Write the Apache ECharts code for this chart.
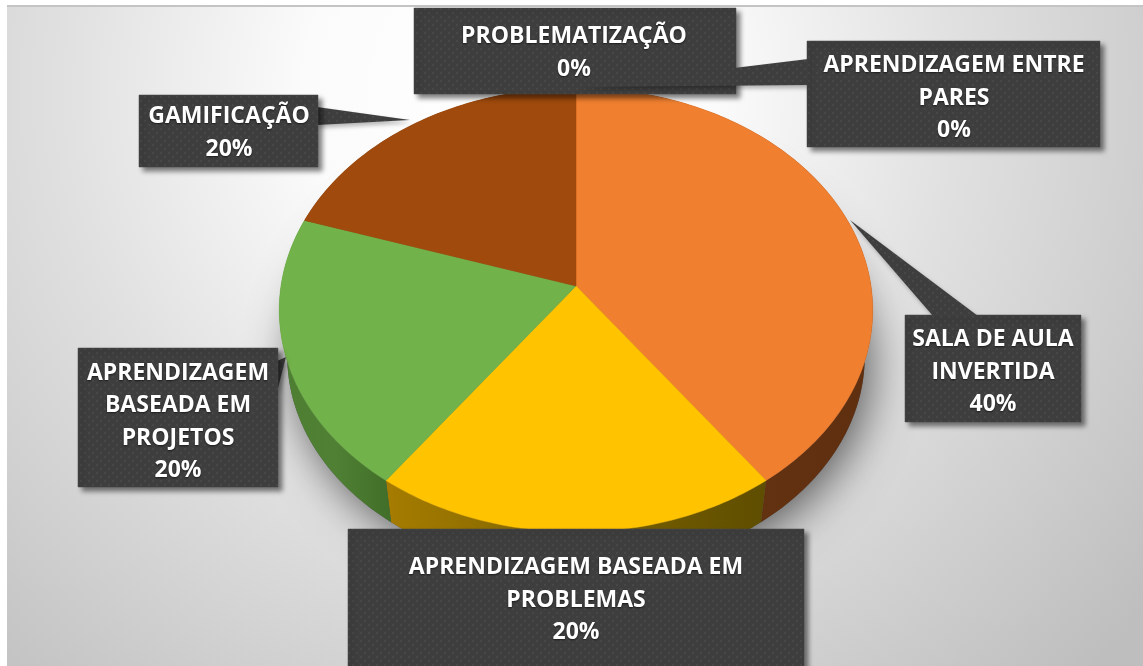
<!DOCTYPE html>
<html>
<head>
<meta charset="utf-8">
<style>html,body{margin:0;padding:0;background:#fff}#c{width:1143px;height:666px}</style>
<script src="https://cdn.jsdelivr.net/npm/echarts@6/dist/echarts.min.js"></script>
</head>
<body>
<div id="c"></div>
<script>
// ---- data ----
const categories = ['SALA DE AULA\nINVERTIDA', 'APRENDIZAGEM BASEADA EM\nPROBLEMAS', 'APRENDIZAGEM\nBASEADA EM\nPROJETOS', 'GAMIFICAÇÃO', 'PROBLEMATIZAÇÃO', 'APRENDIZAGEM ENTRE\nPARES'];
const values = [40, 20, 20, 20, 0, 0];

// ---- styling ----
const topColors = ['#F07F30', '#FFC300', '#72B24A', '#A04A0D', '#333', '#333'];
const wallStops = [
  ['#6b3612', '#5e2f10'],
  ['#a67c00', '#7c6300', '#5f4e00'],
  ['#4d7e32', '#4f8034', '#416e29'],
  ['#5a2a08', '#5a2a08'],
  ['#333', '#333'], ['#333', '#333']
];
// callout boxes: x, y, w, h; wedge: three points
const calloutBoxes = [
  [905, 315, 176, 107], [348, 529, 456, 140], [78, 348, 200, 139],
  [139, 95, 179, 72], [414, 8, 322, 86], [807, 41, 293, 106]
];
const calloutWedges = [
  [[850, 220], [933, 316], [978, 316]],
  null,
  [[286, 357], [277, 361], [277, 392]],
  [[410, 120], [317, 107], [317, 125]],
  null,
  [[578, 87], [808, 59], [808, 85]]
];
const textCentres = [[993, 372], [576, 600], [178, 422], [229, 133], [574, 53], [954, 98]];

const total = values.reduce((a, b) => a + b, 0);

// perspective disc: unit circle -> screen
const disc = { cx: 576, cy: 286, a: 295, b: 219.4, k: 0.108 };
function project(deg, lower) {
  const t = deg * Math.PI / 180, X = Math.sin(t), Y = -Math.cos(t), d = 1 - disc.k * Y;
  const x = disc.a * X / d, y = disc.b * Y / d;
  return lower ? [disc.cx + 0.973 * x, disc.cy + 47 + 0.973 * y] : [disc.cx + x, disc.cy + y];
}
function angles(i) {
  const s = values.slice(0, i).reduce((a, b) => a + b, 0);
  return [s / total * 360, (s + values[i]) / total * 360];
}
function arc(a0, a1, lower) {
  const n = Math.max(1, Math.ceil(a1 - a0)), pts = [];
  for (let j = 0; j <= n; j++) pts.push(project(a0 + (a1 - a0) * j / n, lower));
  return pts;
}

// dotted texture of the callouts
const tile = document.createElement('canvas');
tile.width = 8; tile.height = 8;
(function () {
  const g = tile.getContext('2d');
  g.fillStyle = '#3e3e3e'; g.fillRect(0, 0, 8, 8);
  g.fillStyle = '#474747';
  [[0, 0], [4, 4]].forEach(p => g.fillRect(p[0], p[1], 2, 2));
})();
const texture = { image: tile, repeat: 'repeat' };
const boxShadow = { shadowBlur: 5, shadowOffsetX: 4, shadowOffsetY: 4, shadowColor: 'rgba(0,0,0,0.5)' };
const wedgeShadow = { shadowBlur: 4, shadowOffsetX: 2, shadowOffsetY: 3, shadowColor: 'rgba(0,0,0,0.28)' };

const rows = values.map((v, i) => [i, v]);
const chart = echarts.init(document.getElementById('c'), null, { renderer: 'canvas' });
chart.setOption({
  animation: false,
  backgroundColor: '#fff',
  tooltip: { show: false },
  graphic: [
    { type: 'rect', z: -10, shape: { x: 7, y: 5, width: 1136, height: 661 },
      style: { fill: new echarts.graphic.RadialGradient(510, 90, 820, [
        { offset: 0, color: '#ffffff' }, { offset: 0.25, color: '#fbfbfb' }, { offset: 0.55, color: '#e0e0e0' }, { offset: 1, color: '#bebebe' }
      ], true) } },
    { type: 'rect', z: -9, shape: { x: 7, y: 5, width: 1136, height: 2 }, style: { fill: '#c4c4c4' } }
  ],
  series: [
    { // soft shadow under the pie
      type: 'custom', coordinateSystem: 'none', z: 1, silent: true, data: [[total]],
      renderItem: function () {
        return { type: 'polygon', shape: { points: arc(0, 360, true) },
          style: { fill: '#555', shadowBlur: 45, shadowOffsetX: 6, shadowOffsetY: 8, shadowColor: 'rgba(0,0,0,0.6)' } };
      }
    },
    { // side walls
      type: 'custom', coordinateSystem: 'none', z: 2, silent: true, data: rows,
      renderItem: function (p, api) {
        const i = api.value(0);
        if (!api.value(1)) return null;
        const [a0, a1] = angles(i);
        const stops = wallStops[i].map((c, n, l) => ({ offset: n / (l.length - 1), color: c }));
        return { type: 'polygon', shape: { points: arc(a0, a1, false).concat(arc(a0, a1, true).reverse()) },
          style: { fill: new echarts.graphic.LinearGradient(0, 0, 1, 0, stops) } };
      }
    },
    { // top faces
      type: 'custom', coordinateSystem: 'none', z: 3, silent: true, data: rows,
      renderItem: function (p, api) {
        const i = api.value(0);
        if (!api.value(1)) return null;
        const [a0, a1] = angles(i);
        return { type: 'polygon', shape: { points: [[disc.cx, disc.cy]].concat(arc(a0, a1, false)) },
          style: { fill: topColors[i], stroke: topColors[i], lineWidth: 0.5 } };
      }
    },
    { // callouts
      type: 'custom', coordinateSystem: 'none', z: 4, silent: true, data: rows,
      renderItem: function (p, api) {
        const i = api.value(0), v = api.value(1), b = calloutBoxes[i], c = textCentres[i];
        const kids = [];
        if (calloutWedges[i]) kids.push({ type: 'polygon', z2: i * 3, shape: { points: calloutWedges[i] }, style: Object.assign({ fill: texture }, wedgeShadow) });
        kids.push({ type: 'rect', z2: i * 3 + 1, shape: { x: b[0], y: b[1], width: b[2], height: b[3] }, style: Object.assign({ fill: texture, stroke: '#4a4a4a', lineWidth: 0.5 }, boxShadow) });
        kids.push({ type: 'text', z2: i * 3 + 2, style: {
          text: categories[i] + '\n' + Math.round(v / total * 100) + '%',
          x: c[0], y: c[1], align: 'center', verticalAlign: 'middle', lineHeight: 32.6,
          font: '700 23px "Open Sans"', fill: '#fff', textShadowBlur: 2, textShadowColor: 'rgba(0,0,0,0.6)', textShadowOffsetY: 1
        } });
        return { type: 'group', children: kids };
      }
    }
  ]
});
</script>
</body>
</html>
